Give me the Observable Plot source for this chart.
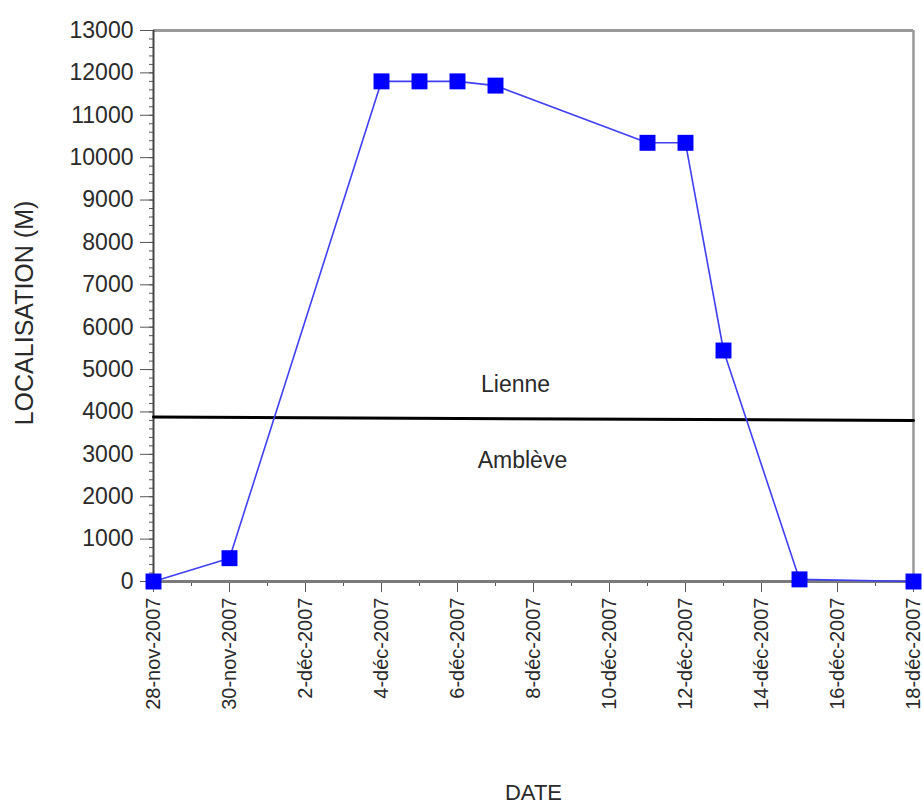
<!DOCTYPE html>
<html><head><meta charset="utf-8">
<script src="https://cdn.jsdelivr.net/npm/d3@7"></script>
<script src="https://cdn.jsdelivr.net/npm/@observablehq/plot@0.6"></script>
<style>body{margin:0;background:#fff;} svg{display:block;}</style>
</head><body><div id="chart"></div>
<script>
// Series
const dates = ["2007-11-28","2007-11-30","2007-12-04","2007-12-05","2007-12-06","2007-12-07","2007-12-11","2007-12-12","2007-12-13","2007-12-15","2007-12-18"];
const localisation = [0, 550, 11800, 11800, 11800, 11700, 10350, 10350, 5450, 50, 0];
// Boundary between rivers
const boundaryDates = ["2007-11-28","2007-12-18"];
const boundaryValues = [3880, 3800];
// Zone annotations
const zoneNames = ["Lienne", "Amblève"];
const zoneDates = ["2007-12-07T12:40Z", "2007-12-07T17:00Z"];
const zoneValues = [4650, 2850];
// Axis ticks
const xTickDates = ["2007-11-28","2007-11-30","2007-12-02","2007-12-04","2007-12-06","2007-12-08","2007-12-10","2007-12-12","2007-12-14","2007-12-16","2007-12-18"];
const xTickLabels = ["28-nov-2007","30-nov-2007","2-déc-2007","4-déc-2007","6-déc-2007","8-déc-2007","10-déc-2007","12-déc-2007","14-déc-2007","16-déc-2007","18-déc-2007"];
const xMinorDates = ["2007-11-29","2007-12-01","2007-12-03","2007-12-05","2007-12-07","2007-12-09","2007-12-11","2007-12-13","2007-12-15","2007-12-17"];
const yTicks = [0,1000,2000,3000,4000,5000,6000,7000,8000,9000,10000,11000,12000,13000];
const yMinorStep = 200;
const xTitle = "DATE";
const yTitle = "LOCALISATION (M)";

const points = dates.map((d, i) => ({date: new Date(d), value: localisation[i]}));
const boundary = boundaryDates.map((d, i) => ({date: new Date(d), value: boundaryValues[i]}));
const zones = zoneNames.map((n, i) => ({name: n, date: new Date(zoneDates[i]), value: zoneValues[i]}));
const xTicks = xTickDates.map(d => new Date(d));
const labelByTime = new Map(xTicks.map((d, i) => [+d, xTickLabels[i]]));
const xMinor = xMinorDates.map(d => new Date(d));
const yMinor = d3.range(yTicks[0], yTicks[yTicks.length - 1] + 1, yMinorStep);
const xStart = new Date(xTickDates[0]);
const xEnd = new Date(xTickDates[xTickDates.length - 1]);
const yMax = yTicks[yTicks.length - 1];

const chart = Plot.plot({
  width: 923,
  height: 810,
  marginLeft: 153,
  marginRight: 10,
  marginTop: 30,
  marginBottom: 229,
  style: {fontFamily: "'Liberation Sans', Arial, sans-serif", background: "white", color: "#222"},
  x: {type: "utc", domain: [xStart, xEnd], axis: null},
  y: {domain: [0, yMax], axis: null},
  marks: [
    Plot.ruleY([yMax], {stroke: "#9a9a9a", strokeWidth: 3}),
    Plot.ruleX([xEnd], {stroke: "#9a9a9a", strokeWidth: 2.5}),
    Plot.axisY({ticks: yMinor, tickSize: 4, tickPadding: 0, label: null, stroke: "#555", tickFormat: () => ""}),
    Plot.axisY({ticks: yTicks, tickSize: 13, tickPadding: 7, fontSize: 23, label: null, stroke: "#555", fill: "#2a2a2a", tickFormat: d => String(d)}),
    Plot.axisX({ticks: xMinor, tickSize: 5, tickPadding: 0, label: null, stroke: "#555", tickFormat: () => ""}),
    Plot.axisX({ticks: xTicks, tickSize: 11, tickPadding: 5, tickRotate: -90, fontSize: 20, label: null, stroke: "#555", fill: "#2a2a2a", tickFormat: d => labelByTime.get(+d)}),
    Plot.ruleY([0], {stroke: "#7a7a7a", strokeWidth: 3}),
    Plot.ruleX([xStart], {stroke: "#444", strokeWidth: 2}),
    Plot.line(boundary, {x: "date", y: "value", stroke: "#000", strokeWidth: 3}),
    Plot.line(points, {x: "date", y: "value", stroke: "#3f3ff2", strokeWidth: 1.6}),
    Plot.dot(points, {x: "date", y: "value", symbol: "square", r: 9, fill: "#0000ff", stroke: "none"}),
    Plot.text(zones, {x: "date", y: "value", text: "name", fontSize: 23, fill: "#2a2a2a"}),
    Plot.text([xTitle], {text: d => d, frameAnchor: "bottom", textAnchor: "middle", lineAnchor: "middle", dy: 211, fontSize: 22, fill: "#2a2a2a"}),
    Plot.text([yTitle], {text: d => d, frameAnchor: "left", textAnchor: "middle", lineAnchor: "middle", rotate: -90, dx: -129, dy: 7, fontSize: 25, fill: "#2a2a2a"})
  ]
});
document.getElementById("chart").appendChild(chart);
</script>
</body></html>
